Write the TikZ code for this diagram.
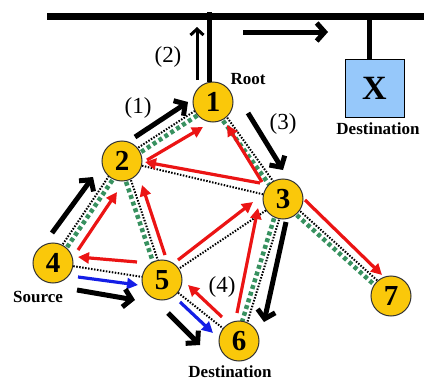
\documentclass[tikz,border=0pt]{standalone}
\usepackage{fontspec}
\setmainfont{Liberation Serif}
\usetikzlibrary{arrows.meta,calc,backgrounds}
\definecolor{gold}{RGB}{250,200,10}
\definecolor{treegreen}{RGB}{55,145,95}
\definecolor{boxblue}{RGB}{150,200,250}
\definecolor{redarr}{RGB}{235,20,20}
\definecolor{bluearr}{RGB}{20,30,230}
\tikzset{
 rnode/.style={circle, draw=black!80, line width=1pt, fill=gold, minimum size=40pt, inner sep=0pt, font=\bfseries\fontsize{29}{29}\selectfont},
 lbl/.style={font=\bfseries\fontsize{17}{17}\selectfont, inner sep=0pt},
 num/.style={font=\fontsize{23}{23}\selectfont, inner sep=0pt},
 link/.style={line width=2pt, dash pattern=on 1.5pt off 1.5pt},
 treelink/.style={line width=4.5pt, treegreen, dash pattern=on 4pt off 3pt},
 bigarrow/.style={line width=5pt, -{Straight Barb[length=8pt,width=18pt]}},
 smallarrow/.style={line width=3pt, -{Straight Barb[length=6pt,width=13pt]}},
 redarrow/.style={line width=3.2pt, redarr, -{Triangle[length=11pt,width=11pt]}},
 bluearrow/.style={line width=3.2pt, bluearr, -{Triangle[length=11pt,width=11pt]}},
 busline/.style={line width=7pt},
 tapline/.style={line width=5pt},
}
\newcommand\tlink[2]{%
  \draw[link] ($(#1)!2.4pt!90:(#2)$) -- ($(#2)!2.4pt!-90:(#1)$);
  \draw[treelink] ($(#1)!2.8pt!-90:(#2)$) -- ($(#2)!2.8pt!90:(#1)$);}
\begin{document}
\begin{tikzpicture}[x=1pt,y=-1pt]
\useasboundingbox (0,0) rectangle (424,383);
% nodes
\node[rnode] (1) at (213,102) {1};
\node[rnode] (2) at (122,161) {2};
\node[rnode] (3) at (283,199) {3};
\node[rnode] (4) at (53,263) {4};
\node[rnode] (5) at (162,280) {5};
\node[rnode] (6) at (239,341) {6};
\node[rnode] (7) at (391,296) {7};
\node[draw, line width=1pt, fill=boxblue, minimum width=59pt, minimum height=58pt, inner sep=0pt,
      font=\bfseries\fontsize{34}{34}\selectfont] (X) at (374.5,88) {X};
% bus
\coordinate (busL) at (47,16);
\coordinate (busR) at (424,16);
\coordinate (tap1) at (209,12);
\coordinate (tap2) at (369,16);
\draw[busline] (busL) -- (busR);
\draw[tapline] (tap1) -- (tap1 |- 1.north);
\draw[tapline] (tap2) -- (tap2 |- X.north);
% links
\begin{scope}[on background layer]
\tlink{2}{1}
\tlink{1}{3}
\tlink{4}{2}
\tlink{2}{5}
\tlink{3}{6}
\tlink{3}{7}
\draw[link] (2) -- (3);
\draw[link] (3) -- (5);
\draw[link] (4) -- (5);
\draw[link] (5) -- (6);
\end{scope}
% red arrows
\draw[redarrow] ($(2)+(25,-1)$) -- ($(1)+(-10,25)$);
\draw[redarrow] ($(3)+(-23,-16)$) -- ($(2)+(23,1)$);
\draw[redarrow] ($(3)+(-21,-17)$) -- ($(1)+(14,23)$);
\draw[redarrow] ($(4)+(25,-13)$) -- ($(2)+(-5,31)$);
\draw[redarrow] ($(5)+(3,-25)$) -- ($(2)+(20,24)$);
\draw[redarrow] ($(5)+(-25,-18)$) -- ($(4)+(25,-6)$);
\draw[redarrow] ($(5)+(16,-20)$) -- ($(3)+(-30,3)$);
\draw[redarrow] ($(6)+(-17,-24)$) -- ($(5)+(26,5)$);
\draw[redarrow] ($(6)+(-2,-28)$) -- ($(3)+(-25,9)$);
\draw[redarrow] ($(3)+(22,1)$) -- ($(7)+(-9,-21)$);
% blue arrows
\draw[bluearrow] ($(4)+(25,14)$) -- ($(5)+(-24,5)$);
\draw[bluearrow] ($(5)+(18,22)$) -- ($(6)+(-26,-8)$);
% black arrows
\draw[bigarrow] ($(2)+(13,-24)$) -- ($(1)+(-25,0)$);
\draw[bigarrow] ($(1)+(35,11)$) -- ($(3)+(0,-29)$);
\draw[bigarrow] ($(4)+(-1,-30)$) -- ($(2)+(-29,16)$);
\draw[bigarrow] ($(4)+(24,27)$) -- ($(5)+(-27,20)$);
\draw[bigarrow] ($(5)+(6,33)$) -- ($(6)+(-39,4)$);
\draw[bigarrow] ($(3)+(3,23)$) -- ($(6)+(25,-19)$);
\coordinate (up2) at (197,27);
\draw[smallarrow] ($(1)+(-16,-22)$) -- (up2);
\coordinate (ra1) at (243,32);
\coordinate (ra2) at (328,32);
\draw[bigarrow] (ra1) -- (ra2);
% labels
\node[num] (l1) at (138,108) {(1)};
\node[num] (l2) at (168,57) {(2)};
\node[num] (l3) at (283,124) {(3)};
\node[num] (l4) at (222,287) {(4)};
\node[lbl] (root) at (248,79) {Root};
\node[lbl] (src) at (38,297) {Source};
\node[lbl] (dst6) at (230,372) {Destination};
\node[lbl] (dstX) at (378,129) {Destination};
\end{tikzpicture}
\end{document}
